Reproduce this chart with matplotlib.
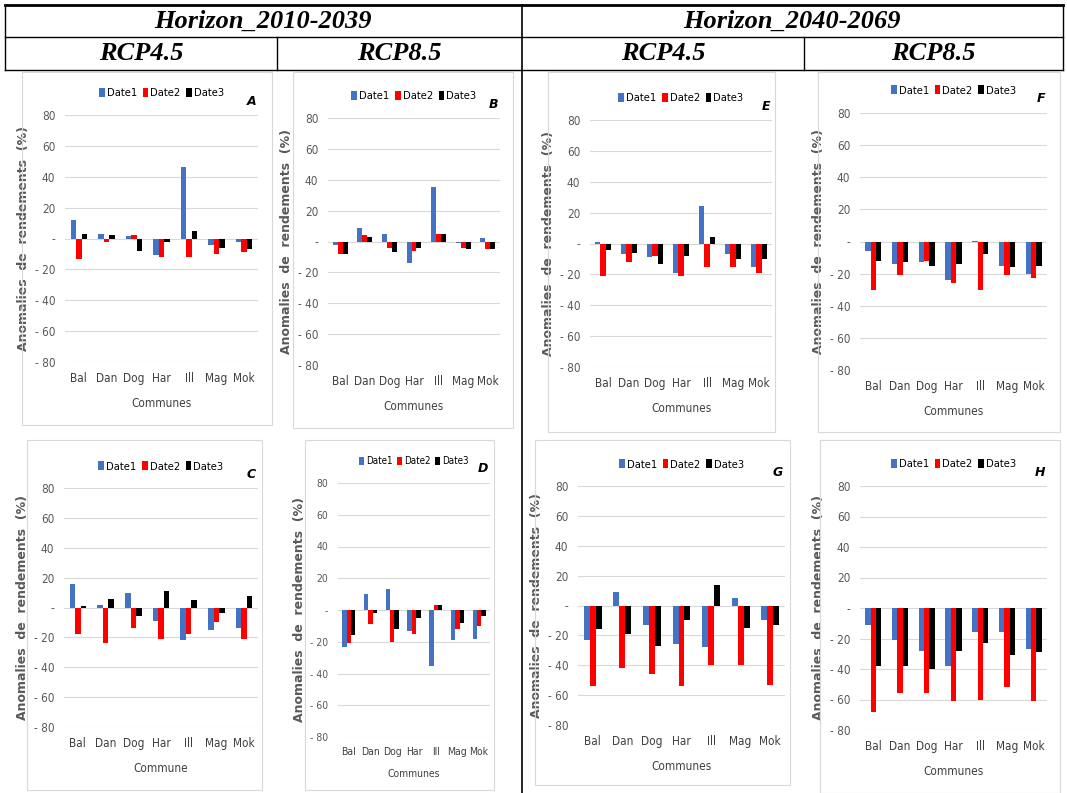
import matplotlib
matplotlib.use("Agg")
import matplotlib.pyplot as plt
from matplotlib.lines import Line2D
from matplotlib.patches import Rectangle
import numpy as np

W, H = 1067, 793

communes = ["Bal", "Dan", "Dog", "Har", "Ill", "Mag", "Mok"]
dates = ["Date1", "Date2", "Date3"]
colors = ["#4472C4", "#FF0000", "#000000"]

# values (Date1, Date2, Date3 per commune)
panel_A = [[12, 3, 1.5, -11, 46, -4, -2],
           [-13, -2, 2, -12, -12, -10, -9],
           [3, 2, -8, -2, 5, -6, -7]]
panel_B = [[-2, 9, 5, -14, 35, -1, 2],
           [-8, 4, -4, -6, 5, -4, -5],
           [-8, 3, -7, -4, 5, -5, -5]]
panel_C = [[16, 2, 10, -9, -22, -15, -14],
           [-18, -24, -14, -21, -18, -10, -21],
           [1, 6, -6, 11, 5, -4, 8]]
panel_D = [[-23, 10, 13, -13, -35, -19, -18],
           [-21, -9, -20, -15, 3, -12, -10],
           [-16, -2, -12, -5, 3, -8, -4]]
panel_E = [[1, -7, -9, -19, 24, -7, -15],
           [-21, -12, -8, -21, -15, -15, -19],
           [-4, -6, -13, -8, 4, -10, -10]]
panel_F = [[-6, -14, -13, -24, 0.5, -15, -20],
           [-30, -21, -12, -26, -30, -21, -23],
           [-12, -13, -15, -14, -8, -16, -15]]
panel_G = [[-23, 9, -13, -26, -28, 5, -10],
           [-54, -42, -46, -54, -40, -40, -53],
           [-16, -19, -27, -10, 14, -15, -13]]
panel_H = [[-11, -21, -28, -38, -16, -16, -27],
           [-68, -56, -56, -61, -60, -52, -61],
           [-38, -38, -40, -28, -23, -31, -29]]

yticks = [-80, -60, -40, -20, 0, 20, 40, 60, 80]
ytick_labels = ["- 80", "- 60", "- 40", "- 20", "-", "20", "40", "60", "80"]

narrow = dict(family="DejaVu Sans", stretch="condensed")
serif = ["Liberation Serif", "DejaVu Serif"]


def frac(x0, y0, x1, y1):
    return [x0 / W, 1 - y1 / H, (x1 - x0) / W, (y1 - y0) / H]


def hline(fig, y, x0, x1, lw=1.0):
    fig.add_artist(Line2D([x0 / W, x1 / W], [1 - y / H, 1 - y / H], color="black", lw=lw))


def vline(fig, x, y0, y1, lw=1.0):
    fig.add_artist(Line2D([x / W, x / W], [1 - y0 / H, 1 - y1 / H], color="black", lw=lw))


fig = plt.figure(figsize=(W / 100, H / 100), dpi=100)

# header table
hline(fig, 5, 5, 1063, 2)
hline(fig, 37, 5, 1063, 1)
hline(fig, 70, 5, 1063, 1)
vline(fig, 5, 5, 70)
vline(fig, 1063, 5, 70)
vline(fig, 522, 5, 793, 1.2)
vline(fig, 277, 37, 70)
vline(fig, 804, 37, 70)

hdr = dict(family=serif, weight="bold", style="italic", fontsize=19, ha="center", va="center")
fig.text(263 / W, 1 - 21 / H, "Horizon_2010-2039", **hdr)
fig.text(792 / W, 1 - 21 / H, "Horizon_2040-2069", **hdr)
fig.text(141 / W, 1 - 54 / H, "RCP4.5", **hdr)
fig.text(399 / W, 1 - 54 / H, "RCP8.5", **hdr)
fig.text(663 / W, 1 - 54 / H, "RCP4.5", **hdr)
fig.text(933 / W, 1 - 54 / H, "RCP8.5", **hdr)

# panel: data, letter, xlabel, outer box (px), plot area (px), font size
panels = [
    (panel_A, "A", "Communes", (22, 72, 272, 425), (65, 115, 258, 362), 8.5),
    (panel_B, "B", "Communes", (293, 72, 513, 428), (328, 118, 500, 365), 8.5),
    (panel_E, "E", "Communes", (548, 72, 775, 432), (590, 120, 772, 367), 8.5),
    (panel_F, "F", "Communes", (818, 72, 1060, 432), (860, 113, 1047, 370), 8.5),
    (panel_C, "C", "Commune", (27, 440, 262, 790), (64, 488, 258, 727), 8.5),
    (panel_D, "D", "Communes", (305, 440, 494, 790), (338, 483, 490, 737), 7.5),
    (panel_G, "G", "Communes", (535, 440, 790, 785), (578, 486, 785, 725), 8.5),
    (panel_H, "H", "Communes", (820, 440, 1060, 793), (860, 486, 1047, 730), 8.5),
]

x = np.arange(len(communes))
bw = 0.2

for data, letter, xlab, box, area, fs in panels:
    bx0, by0, bx1, by1 = box
    fig.add_artist(Rectangle((bx0 / W, 1 - by1 / H), (bx1 - bx0) / W, (by1 - by0) / H,
                             transform=fig.transFigure, fill=False, edgecolor="#d9d9d9", lw=0.8))
    ax = fig.add_axes(frac(*area))
    for i, vals in enumerate(data):
        ax.bar(x + (i - 1) * bw, vals, width=bw, color=colors[i], label=dates[i], zorder=3)
    ax.set_ylim(-80, 80)
    ax.set_xlim(-0.5, len(communes) - 0.5)
    ax.set_yticks(yticks)
    ax.set_yticklabels(ytick_labels, fontsize=fs, color="#595959", **narrow)
    ax.set_xticks(x)
    ax.set_xticklabels(communes, fontsize=fs, color="#404040", **narrow)
    ax.tick_params(length=0, pad=7)
    ax.grid(axis="y", color="#d9d9d9", lw=0.8, zorder=0)
    for s in ax.spines.values():
        s.set_visible(False)
    ax.set_xlabel(xlab, fontsize=fs, color="#404040", labelpad=9, **narrow)
    ax.set_ylabel("Anomalies  de  rendements  (%)", fontsize=9, weight="bold",
                  color="#595959", labelpad=3)
    ax.legend(loc="lower center", bbox_to_anchor=(0.5, 1.05), ncol=3, frameon=False,
              prop=dict(size=fs - 0.5, **narrow), handlelength=0.5, handleheight=0.9,
              handletextpad=0.2, columnspacing=0.5, borderaxespad=0)
    ax.text(0.99, 1.03, letter, transform=ax.transAxes, ha="right", va="bottom",
            fontsize=9, weight="bold", style="italic")

fig.savefig("out.png", dpi=100)
